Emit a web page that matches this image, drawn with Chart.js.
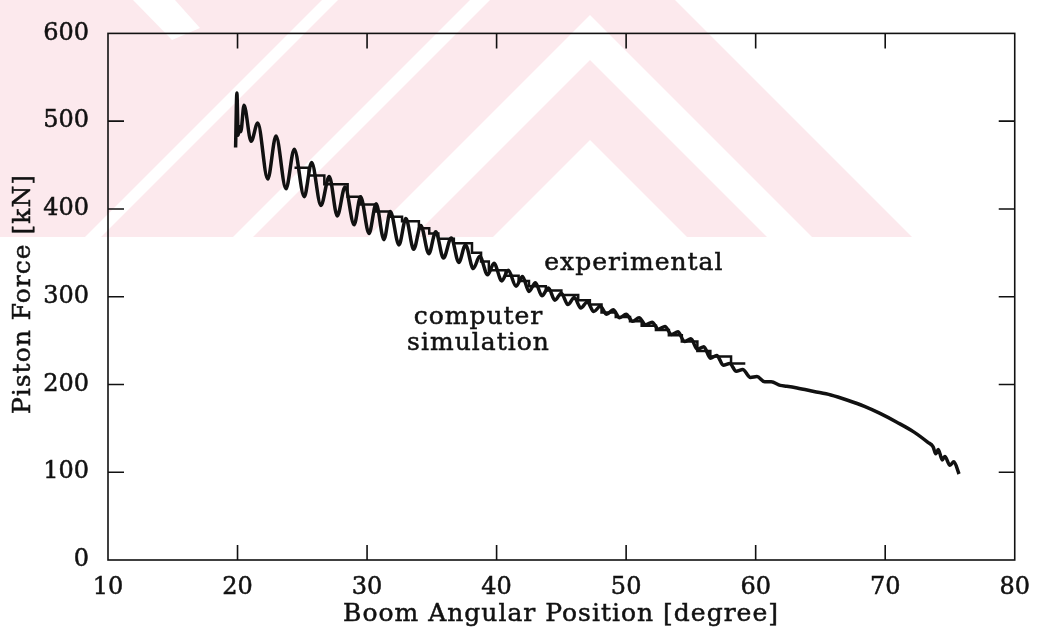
<!DOCTYPE html>
<html lang="en">
<head>
<meta charset="UTF-8">
<title>Piston Force vs Boom Angular Position</title>
<script src="https://cdn.jsdelivr.net/npm/chart.js"></script>
<style>
  body { margin: 0; background: #fff; }
  .chart-container { position: relative; width: 1043px; height: 632px; }
</style>
</head>
<body>
<div class="chart-container"><canvas id="forceChart"></canvas></div>
<script>
// Axis ticks
const xTicks = [10, 20, 30, 40, 50, 60, 70, 80];
const yTicks = [0, 100, 200, 300, 400, 500, 600];

// Computer simulation: boom angle [degree] -> piston force [kN] (peaks and troughs)
const simAngle = [
  19.85, 19.95, 20.05, 20.15, 20.25, 20.5, 21.05, 21.56, 22.33, 22.97,
  23.74, 24.38, 25.15, 25.72, 26.44, 27.08, 27.7, 28.3, 29.0, 29.5,
  30.15, 30.7, 31.3, 31.8, 32.46, 33.0, 33.6, 34.15, 34.77, 35.3,
  35.9, 36.5, 37.08, 37.6, 38.2, 38.7, 39.3, 39.8, 40.4, 40.9,
  41.5, 42.0, 42.5, 43.0, 43.5, 44.0, 44.5, 45.0, 45.5, 46.0,
  46.5, 47.0, 47.5, 48.0, 48.5, 49.0, 49.5, 50.0, 50.5, 51.0,
  51.5, 52.0, 52.5, 53.0, 53.5, 54.0, 54.5, 55.0, 55.5, 56.0,
  56.5, 57.0, 57.5, 58.0, 58.5, 59.0, 59.6, 60.1, 60.7, 61.2,
  61.9, 62.4, 63.2, 64.5, 65.8, 67.1, 68.4, 69.6, 70.9, 72.2,
  73.3, 73.7, 73.9, 74.1, 74.4, 74.6, 75.0, 75.3, 75.7
];
const simForce = [
  470, 532, 484, 494, 488, 518, 477, 498, 434, 483,
  423, 468, 414, 453, 404, 437, 392, 425, 382, 414,
  372, 406, 365, 397, 359, 389, 354, 381, 349, 374,
  344, 367, 339, 359, 332, 346, 325, 338, 318, 330,
  312, 323, 306, 316, 301, 310, 296, 304, 291, 299,
  287, 294, 283, 289, 280, 285, 276, 280, 272, 276,
  268, 271, 263, 266, 257, 260, 249, 252, 240, 243,
  230, 233, 222, 224, 215, 217, 208, 209, 203, 203,
  199, 198, 196, 192, 188, 182, 175, 167, 157, 146,
  134, 129, 121, 126, 114, 118, 108, 112, 98
];

// Experimental record: start angle of each step and its force level
const expAngle = [
  24.4, 25.5, 26.7, 28.5, 29.5, 30.7, 31.7, 32.7, 34.0, 34.8,
  35.5, 36.7, 38.1, 38.8, 39.4, 40.7, 41.7, 42.5, 43.8, 45.0,
  46.3, 47.2, 48.1, 49.2, 50.3, 51.2, 52.3, 53.3, 54.3, 55.5,
  56.5, 58.1, 59.2
];
const expForce = [
  447, 438, 428, 414, 405, 397, 391, 386, 378, 372,
  366, 361, 350, 340, 330, 324, 318, 312, 307, 302,
  296, 291, 282, 277, 272, 267, 262, 256, 249, 238,
  232, 224, 224
];

const FONT = "'DejaVu Serif', serif";
const INK = '#111';

// pale striped backdrop across the upper band of the figure
const watermark = {
  id: 'watermark',
  beforeDraw(chart) {
    const ctx = chart.ctx;
    ctx.save();
    ctx.beginPath();
    ctx.rect(0, 0, chart.width, 237);
    ctx.clip();
    ctx.fillStyle = '#fce9ed';
    ctx.beginPath();
    ctx.moveTo(0, 0);
    ctx.lineTo(675, 0);
    ctx.lineTo(912, 237);
    ctx.lineTo(0, 237);
    ctx.closePath();
    ctx.fill();
    ctx.fillStyle = '#fff';
    const c = 590, L = 1200;
    [[15, 60], [-120, -100], [-268, -252], [140, 2000]].forEach(([a, b]) => {
      ctx.beginPath();
      ctx.moveTo(c - L, a + L);
      ctx.lineTo(c, a);
      ctx.lineTo(c + L, a + L);
      ctx.lineTo(c + L, b + L);
      ctx.lineTo(c, b);
      ctx.lineTo(c - L, b + L);
      ctx.closePath();
      ctx.fill();
    });
    // short back-slanted stripe in the top left corner
    ctx.beginPath();
    ctx.moveTo(133, 0);
    ctx.lineTo(175, 0);
    ctx.lineTo(200, 28);
    ctx.lineTo(172, 40);
    ctx.closePath();
    ctx.fill();
    ctx.restore();
  }
};

// box frame with inward tick marks on all four sides
const frame = {
  id: 'frame',
  afterDatasetsDraw(chart) {
    const { ctx, chartArea: a, scales: { x, y } } = chart;
    ctx.save();
    ctx.strokeStyle = INK;
    ctx.lineWidth = 1.6;
    ctx.strokeRect(a.left, a.top, a.right - a.left, a.bottom - a.top);
    ctx.beginPath();
    xTicks.slice(1, -1).forEach(v => {
      const px = x.getPixelForValue(v);
      ctx.moveTo(px, a.bottom); ctx.lineTo(px, a.bottom - 15);
      ctx.moveTo(px, a.top); ctx.lineTo(px, a.top + 15);
    });
    yTicks.slice(1, -1).forEach(v => {
      const py = y.getPixelForValue(v);
      ctx.moveTo(a.left, py); ctx.lineTo(a.left + 16, py);
      ctx.moveTo(a.right, py); ctx.lineTo(a.right - 16, py);
    });
    ctx.stroke();
    ctx.restore();
  }
};

// axis titles and curve labels
const captions = {
  id: 'captions',
  afterDraw(chart) {
    const { ctx, scales: { x, y } } = chart;
    const put = (text, px, py) => {
      ctx.strokeText(text, px, py);
      ctx.fillText(text, px, py);
    };
    ctx.save();
    ctx.fillStyle = INK;
    ctx.strokeStyle = INK;
    ctx.lineWidth = 0.5;
    ctx.font = `25px ${FONT}`;
    ctx.letterSpacing = '1px';
    ctx.textAlign = 'center';
    ctx.textBaseline = 'alphabetic';
    put('experimental', x.getPixelForValue(50.6), y.getPixelForValue(330));
    put('computer', x.getPixelForValue(38.6), y.getPixelForValue(269));
    put('simulation', x.getPixelForValue(38.6), y.getPixelForValue(239));
    ctx.textBaseline = 'middle';
    put('Boom Angular Position [degree]', 561, 614);
    ctx.translate(23, 294);
    ctx.rotate(-Math.PI / 2);
    put('Piston Force [kN]', 0, 0);
    ctx.restore();
  }
};

const line = (xs, ys) => xs.map((v, i) => ({ x: v, y: ys[i] }));

const tickFont = { family: FONT, size: 24 };

new Chart(document.getElementById('forceChart'), {
  type: 'line',
  data: {
    datasets: [{
      label: 'computer simulation',
      data: line(simAngle, simForce),
      borderColor: INK,
      borderWidth: 3.5,
      pointRadius: 0,
      cubicInterpolationMode: 'monotone',
      fill: false
    }, {
      label: 'experimental',
      data: line(expAngle, expForce),
      borderColor: INK,
      borderWidth: 2.5,
      pointRadius: 0,
      stepped: 'before',
      fill: false
    }]
  },
  options: {
    responsive: true,
    maintainAspectRatio: false,
    animation: false,
    layout: { padding: { left: 0, right: 25, top: 27, bottom: 0 } },
    plugins: { legend: { display: false }, tooltip: { enabled: false } },
    scales: {
      x: {
        type: 'linear',
        min: 10, max: 80,
        afterBuildTicks: s => { s.ticks = xTicks.map(v => ({ value: v })); },
        afterFit: s => { s.height = 72; },
        grid: { display: false, drawTicks: false },
        border: { display: false },
        ticks: { color: INK, padding: 13, font: tickFont, textStrokeColor: INK, textStrokeWidth: 0.5 }
      },
      y: {
        min: 0, max: 600,
        afterBuildTicks: s => { s.ticks = yTicks.map(v => ({ value: v })); },
        afterFit: s => { s.width = 108; },
        grid: { display: false, drawTicks: false },
        border: { display: false },
        ticks: { color: INK, padding: 19, font: tickFont, textStrokeColor: INK, textStrokeWidth: 0.5 }
      }
    }
  },
  plugins: [watermark, frame, captions]
});
</script>
</body>
</html>
